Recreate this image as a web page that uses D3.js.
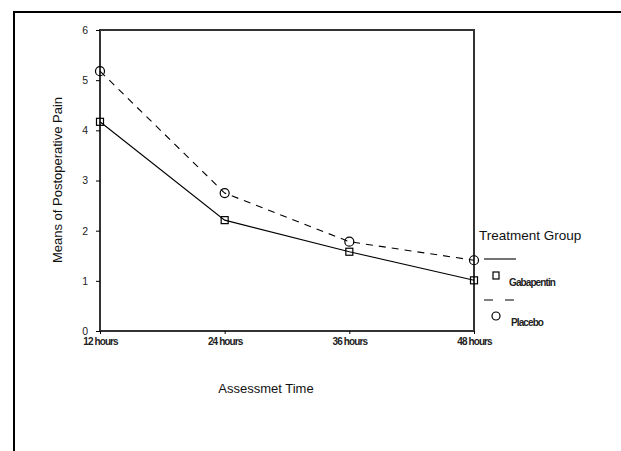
<!DOCTYPE html>
<html><head><meta charset="utf-8">
<script src="https://cdn.jsdelivr.net/npm/d3@7/dist/d3.min.js"></script>
<style>body{margin:0;background:#fff}svg{display:block}</style>
</head><body>
<script>
const categories = ["12 hours","24 hours","36 hours","48 hours"];
const gabapentin = [4.17, 2.21, 1.58, 1.01];
const placebo = [5.18, 2.75, 1.78, 1.41];
const yTicks = [0,1,2,3,4,5,6];
const seriesNames = ["Gabapentin","Placebo"];

const W = 621, H = 451;
const svg = d3.select("body").append("svg").attr("width", W).attr("height", H);
const font = "Arial, 'Liberation Sans', sans-serif";

// outer frame
svg.append("rect").attr("x",14).attr("y",12).attr("width",620).attr("height",460)
  .attr("fill","none").attr("stroke","#000").attr("stroke-width",2);

const x = d3.scalePoint().domain(categories).range([100,474]).padding(0);
const y = d3.scaleLinear().domain([0,6]).range([331,30]);

// plot frame
svg.append("rect").attr("x",100).attr("y",30).attr("width",374).attr("height",301)
  .attr("fill","none").attr("stroke","#333").attr("stroke-width",2);

const yAxis = svg.append("g").attr("transform","translate(100,0)")
  .call(d3.axisLeft(y).tickValues(yTicks).tickSize(4).tickPadding(8).tickFormat(d3.format("d")));
yAxis.select(".domain").remove();
yAxis.selectAll("line").attr("stroke","#000");
yAxis.selectAll("text").attr("font-family",font).attr("font-size",10.5).attr("fill","#222");

const xAxis = svg.append("g").attr("transform","translate(0,331)")
  .call(d3.axisBottom(x).tickSize(3).tickPadding(4));
xAxis.select(".domain").remove();
xAxis.selectAll("line").attr("stroke","#000");
xAxis.selectAll("text").attr("font-family",font).attr("font-size",10).attr("font-weight","bold")
  .attr("fill","#222").attr("letter-spacing","-0.9");

const line = d3.line().x((d,i)=>x(categories[i])).y(d=>y(d));

svg.append("path").datum(gabapentin).attr("d",line).attr("fill","none")
  .attr("stroke","#000").attr("stroke-width",1.1);
svg.append("path").datum(placebo).attr("d",line).attr("fill","none")
  .attr("stroke","#000").attr("stroke-width",1.1).attr("stroke-dasharray","7,6");

svg.selectAll(".sq").data(gabapentin).enter().append("rect")
  .attr("x",(d,i)=>x(categories[i])-3.5).attr("y",d=>y(d)-3.5)
  .attr("width",7).attr("height",7).attr("fill","none").attr("stroke","#000").attr("stroke-width",1.2);
svg.selectAll(".ci").data(placebo).enter().append("circle")
  .attr("cx",(d,i)=>x(categories[i])).attr("cy",d=>y(d)).attr("r",4.5)
  .attr("fill","none").attr("stroke","#000").attr("stroke-width",1.2);

// axis titles
svg.append("text").attr("transform","translate(62,180) rotate(-90)").attr("text-anchor","middle")
  .attr("font-family",font).attr("font-size",13).attr("fill","#111").text("Means of Postoperative Pain");
svg.append("text").attr("x",266).attr("y",393).attr("text-anchor","middle")
  .attr("font-family",font).attr("font-size",13).attr("fill","#111").text("Assessmet Time");

// legend
const lg = svg.append("g");
lg.append("text").attr("x",479).attr("y",240).attr("font-family",font).attr("font-size",13.5)
  .attr("fill","#111").text("Treatment Group");
lg.append("line").attr("x1",484).attr("x2",516).attr("y1",259).attr("y2",259).attr("stroke","#000").attr("stroke-width",1.1);
lg.append("rect").attr("x",493).attr("y",272).attr("width",6).attr("height",7)
  .attr("fill","none").attr("stroke","#000").attr("stroke-width",1.2);
lg.append("text").attr("x",509).attr("y",286).attr("font-family",font).attr("font-size",10)
  .attr("font-weight","bold").attr("letter-spacing","-0.9").attr("fill","#222").text(seriesNames[0]);
lg.append("line").attr("x1",484).attr("x2",516).attr("y1",300).attr("y2",300).attr("stroke","#000")
  .attr("stroke-width",1.1).attr("stroke-dasharray","9,12");
lg.append("circle").attr("cx",496).attr("cy",316).attr("r",4)
  .attr("fill","none").attr("stroke","#000").attr("stroke-width",1.2);
lg.append("text").attr("x",511).attr("y",326).attr("font-family",font).attr("font-size",10)
  .attr("font-weight","bold").attr("letter-spacing","-0.9").attr("fill","#222").text(seriesNames[1]);
</script>
</body></html>
